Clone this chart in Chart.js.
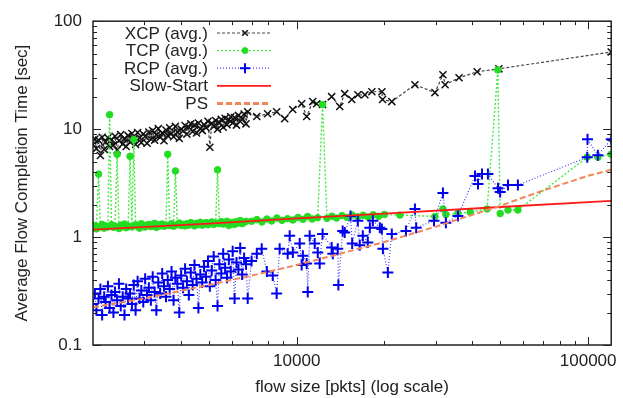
<!DOCTYPE html>
<html>
<head>
<meta charset="utf-8">
<script src="https://cdn.jsdelivr.net/npm/chart.js"></script>
<style>
  body { margin: 0; background: #fff; }
</style>
</head>
<body>
<canvas id="fct" width="623" height="398"></canvas>
<script>
"use strict";

// flow sizes shared by the three protocols in the dense part of the run
const denseSizes = [
  2000, 2030, 2055, 2090, 2120, 2150, 2185, 2210, 2250, 2280,
  2315, 2350, 2380, 2420, 2455, 2490, 2530, 2565, 2600, 2640,
  2680, 2720, 2760, 2800, 2845, 2890, 2930, 2975, 3020, 3065,
  3110, 3160, 3205, 3255, 3300, 3350, 3400, 3455, 3505, 3560,
  3610, 3665, 3720, 3780, 3835, 3895, 3955, 4015, 4075, 4140,
  4200, 4265, 4330, 4395, 4460, 4530, 4600, 4670, 4740, 4810,
  4885, 4960, 5035, 5110, 5190, 5270, 5350, 5430, 5510, 5595,
  5680, 5765, 5850, 5940, 6030, 6120, 6215, 6310, 6400, 6500,
  6600, 6700
];

const xcpDense = [
  7.2, 8.1, 6.6, 7.9, 5.7, 8.4, 6.5, 7.6, 8.3, 6.9,
  8.0, 7.1, 8.6, 6.4, 7.8, 8.9, 7.3, 8.2, 6.9, 8.7,
  7.6, 9.1, 8.0, 7.2, 9.3, 8.3, 7.5, 9.0, 8.6, 7.4,
  9.4, 8.1, 9.7, 7.9, 8.8, 10.1, 8.4, 9.2, 7.8, 9.8,
  8.7, 10.3, 9.1, 8.5, 10.6, 9.4, 8.2, 10.0, 9.6, 10.8,
  9.0, 10.4, 11.2, 9.5, 10.9, 9.2, 11.4, 10.1, 9.7, 11.0,
  10.3, 11.8, 6.8, 11.3, 10.6, 12.0, 10.0, 11.5, 12.3, 10.4,
  12.6, 11.0, 12.2, 13.0, 11.4, 12.8, 10.9, 13.4, 11.8, 12.5,
  13.8, 11.2
];
const xcpTailSizes = [
  6790, 7295, 7945, 8535, 9095, 9690, 10400, 10820, 11350, 11710,
  12270, 13180, 14050, 14610, 15450, 16210, 17130, 18110, 19600, 19700,
  21200, 25450, 29800, 31750, 32300, 36060, 41600, 49400, 120000
];
const xcpTailTimes = [
  14.5, 13.1, 13.9, 14.5, 12.5, 15.2, 17.2, 13.1, 18.0, 17.2,
  16.9, 20.0, 16.2, 21.3, 18.8, 20.8, 20.8, 22.2, 22.2, 18.8,
  18.0, 25.8, 21.8, 31.9, 25.8, 29.9, 34.0, 36.2, 51.9
];

const tcpDense = [
  1.22, 1.28, 1.19, 3.83, 1.25, 1.31, 1.21, 1.27, 1.24, 13.6,
  1.30, 1.23, 1.26, 5.85, 1.20, 1.29, 1.25, 1.32, 1.22, 1.27,
  5.6, 1.24, 8.0, 1.30, 1.26, 1.21, 1.33, 1.27, 1.24, 1.29,
  1.31, 1.25, 1.28, 1.34, 1.23, 1.30, 1.27, 1.32, 1.26, 1.29,
  5.85, 1.28, 1.33, 1.26, 4.1, 1.30, 1.35, 1.28, 1.31, 1.27,
  1.33, 1.29, 1.36, 1.30, 1.27, 1.34, 1.31, 1.37, 1.29, 1.33,
  1.36, 1.30, 1.34, 1.38, 1.31, 1.35, 4.2, 1.33, 1.39, 1.32,
  1.36, 1.40, 1.28, 1.34, 1.37, 1.31, 1.39, 1.35, 1.42, 1.33,
  1.37, 1.40
];
const tcpTailSizes = [
  7000, 7300, 7600, 7900, 8200, 8550, 8900, 9300, 9700, 10100,
  10500, 10900, 11300, 11800, 12270, 12700, 13200, 13700, 14300, 14900,
  15500, 16200, 16900, 17600, 18300, 19100, 20000, 22600, 29800, 31750,
  32500, 35740, 39400, 45000, 49000, 49900, 53100, 57400, 99300, 108000,
  120000
];
const tcpTailTimes = [
  1.40, 1.45, 1.38, 1.47, 1.41, 1.50, 1.43, 1.48, 1.44, 1.52,
  1.46, 1.55, 1.47, 1.51, 16.9, 1.49, 1.56, 1.50, 1.58, 1.52,
  1.60, 1.54, 1.59, 1.53, 1.61, 1.56, 1.62, 1.60, 1.55, 1.82,
  1.62, 1.66, 1.70, 1.82, 35.4, 1.65, 1.78, 1.78, 5.5, 5.5,
  5.85
];

const rcpDense = [
  0.24, 0.30, 0.21, 0.27, 0.33, 0.19, 0.28, 0.25, 0.35, 0.22,
  0.29, 0.20, 0.31, 0.26, 0.37, 0.23, 0.28, 0.19, 0.33, 0.27,
  0.30, 0.24, 0.36, 0.21, 0.39, 0.27, 0.32, 0.25, 0.41, 0.29,
  0.34, 0.26, 0.43, 0.31, 0.21, 0.38, 0.30, 0.46, 0.35, 0.28,
  0.40, 0.33, 0.48, 0.26, 0.42, 0.37, 0.20, 0.44, 0.34, 0.51,
  0.39, 0.29, 0.47, 0.36, 0.55, 0.41, 0.22, 0.45, 0.38, 0.53,
  0.43, 0.60, 0.35, 0.49, 0.66, 0.40, 0.23, 0.56, 0.46, 0.70,
  0.52, 0.42, 0.62, 0.48, 0.74, 0.27, 0.58, 0.50, 0.79, 0.45,
  0.64, 0.56
];
const rcpTailSizes = [
  6790, 7000, 7295, 7585, 7900, 8275, 8535, 8740, 9310, 9460,
  9700, 10240, 10400, 10500, 10820, 10910, 11080, 11530, 11810, 11990,
  12270, 13180, 13300, 13830, 13900, 14380, 14610, 15300, 15500, 16210,
  16450, 16860, 17530, 17820, 18250, 19290, 19600, 19760, 20550, 21200,
  23700, 25450, 25700, 29580, 31750, 32500, 35740, 40900, 41880, 43240,
  45300, 49070, 49900, 53100, 57400, 99300, 99500, 108000, 120000
];
const rcpTailTimes = [
  0.27, 0.60, 0.70, 0.78, 0.48, 0.44, 0.30, 0.78, 0.70, 1.03,
  0.72, 0.87, 0.55, 0.67, 0.57, 0.31, 1.03, 0.87, 0.72, 0.57,
  1.07, 0.80, 0.70, 0.78, 0.36, 1.14, 1.10, 1.57, 0.87, 1.42,
  0.84, 1.03, 0.89, 1.22, 1.42, 1.22, 1.19, 0.78, 0.47, 1.07,
  1.14, 1.82, 1.22, 1.42, 2.56, 1.36, 1.57, 3.67, 3.10, 3.83,
  3.83, 2.84, 2.62, 3.03, 3.03, 5.50, 8.04, 5.73, 8.04
];

const slowStartSizes = [2000, 5000, 10000, 20000, 50000, 120000];
const slowStartTimes = [1.17, 1.33, 1.49, 1.65, 1.90, 2.16];

const psSizes = [2000, 3000, 5000, 7000, 10000, 20000, 30000, 50000, 70000, 100000, 120000];
const psTimes = [0.224, 0.27, 0.36, 0.44, 0.55, 0.90, 1.25, 1.95, 2.70, 3.70, 4.20];

const xTickValues = [10000, 100000];
const xTickLabels = ["10000", "100000"];
const yTickValues = [0.1, 1, 10, 100];
const yTickLabels = ["0.1", "1", "10", "100"];

const FONT = '"Liberation Sans", Arial, sans-serif';
const TEXT = "#222";

function pairs(xs, ys) {
  return xs.map((x, i) => ({ x: x, y: ys[i] }));
}

// gnuplot style box with inward ticks on all four sides
const framePlugin = {
  id: "frame",
  afterDatasetsDraw(chart) {
    const { ctx, chartArea: a } = chart;
    const xs = chart.scales.x;
    const ys = chart.scales.y;
    ctx.save();
    ctx.strokeStyle = "#222";
    ctx.lineWidth = 1.5;
    ctx.strokeRect(a.left, a.top, a.right - a.left, a.bottom - a.top);
    ctx.lineWidth = 1;
    ctx.beginPath();
    const yMinor = [];
    [0.1, 1, 10].forEach((d) => { for (let k = 2; k <= 9; k++) yMinor.push(k * d); });
    yMinor.forEach((v) => {
      const p = Math.round(ys.getPixelForValue(v)) + 0.5;
      ctx.moveTo(a.left, p); ctx.lineTo(a.left + 4, p);
      ctx.moveTo(a.right, p); ctx.lineTo(a.right - 4, p);
    });
    yTickValues.forEach((v) => {
      const p = Math.round(ys.getPixelForValue(v)) + 0.5;
      ctx.moveTo(a.left, p); ctx.lineTo(a.left + 8, p);
      ctx.moveTo(a.right, p); ctx.lineTo(a.right - 8, p);
    });
    const xMinor = [];
    [1000, 10000].forEach((d) => { for (let k = 2; k <= 9; k++) xMinor.push(k * d); });
    xMinor.forEach((v) => {
      if (v <= 2000) return;
      const p = Math.round(xs.getPixelForValue(v)) + 0.5;
      ctx.moveTo(p, a.bottom); ctx.lineTo(p, a.bottom - 4);
      ctx.moveTo(p, a.top); ctx.lineTo(p, a.top + 4);
    });
    xTickValues.forEach((v) => {
      const p = Math.round(xs.getPixelForValue(v)) + 0.5;
      ctx.moveTo(p, a.bottom); ctx.lineTo(p, a.bottom - 8);
      ctx.moveTo(p, a.top); ctx.lineTo(p, a.top + 8);
    });
    ctx.stroke();
    ctx.restore();
  }
};

// key in the top left corner: text right aligned, sample to its right
const keyPlugin = {
  id: "key",
  afterDraw(chart) {
    const ctx = chart.ctx;
    const textRight = 208, lineL = 217, lineR = 271, top = 33, step = 17.6;
    ctx.save();
    ctx.font = "17px " + FONT;
    ctx.textAlign = "right";
    ctx.textBaseline = "middle";
    chart.data.datasets.forEach((ds, i) => {
      const y = top + i * step;
      ctx.fillStyle = TEXT;
      ctx.fillText(ds.label, textRight, y + 1);
      ctx.strokeStyle = ds.borderColor;
      ctx.lineWidth = ds.keyWidth || ds.borderWidth;
      ctx.setLineDash(ds.borderDash || []);
      ctx.beginPath();
      ctx.moveTo(lineL, y);
      ctx.lineTo(lineR, y);
      ctx.stroke();
      ctx.setLineDash([]);
      if (ds.pointRadius > 0) {
        ctx.fillStyle = ds.pointBackgroundColor;
        ctx.strokeStyle = ds.pointBorderColor;
        ctx.lineWidth = ds.pointBorderWidth;
        Chart.helpers.drawPoint(ctx, {
          pointStyle: ds.pointStyle,
          radius: ds.keyRadius || ds.pointRadius,
          borderWidth: ds.pointBorderWidth,
          rotation: 0
        }, 245, y);
      }
    });
    ctx.restore();
  }
};

const data = {
  datasets: [
    {
      label: "XCP (avg.)",
      data: pairs(denseSizes, xcpDense).concat(pairs(xcpTailSizes, xcpTailTimes)),
      showLine: true,
      borderColor: "#444",
      borderWidth: 1.2,
      borderDash: [3, 2],
      pointStyle: "crossRot",
      pointRadius: 5,
      keyRadius: 4,
      pointBorderWidth: 1.5,
      pointBorderColor: "#111",
      pointBackgroundColor: "#111",
      order: 5
    },
    {
      label: "TCP (avg.)",
      data: pairs(denseSizes, tcpDense).concat(pairs(tcpTailSizes, tcpTailTimes)),
      showLine: true,
      borderColor: "#44e844",
      borderWidth: 1.4,
      borderDash: [2, 2],
      pointStyle: "circle",
      pointRadius: 3.3,
      keyRadius: 3,
      pointBorderWidth: 1,
      pointBorderColor: "#22dd22",
      pointBackgroundColor: "#22dd22",
      order: 4
    },
    {
      label: "RCP (avg.)",
      data: pairs(denseSizes, rcpDense).concat(pairs(rcpTailSizes, rcpTailTimes)),
      showLine: true,
      borderColor: "#4040ff",
      borderWidth: 1.2,
      borderDash: [1, 2],
      pointStyle: "cross",
      pointRadius: 5.5,
      keyRadius: 5,
      pointBorderWidth: 2,
      pointBorderColor: "#0000ee",
      pointBackgroundColor: "#0000ee",
      order: 3
    },
    {
      label: "Slow-Start",
      data: pairs(slowStartSizes, slowStartTimes),
      showLine: true,
      borderColor: "#ff1a1a",
      borderWidth: 1.8,
      pointRadius: 0,
      order: 2
    },
    {
      label: "PS",
      data: pairs(psSizes, psTimes),
      showLine: true,
      borderColor: "#f4865c",
      borderWidth: 2,
      keyWidth: 3,
      borderDash: [6, 3],
      pointRadius: 0,
      order: 1
    }
  ]
};

const config = {
  type: "scatter",
  data: data,
  options: {
    responsive: false,
    animation: false,
    layout: { padding: { top: 19, right: 11, bottom: 0, left: 0 } },
    plugins: {
      legend: { display: false },
      tooltip: { enabled: false }
    },
    scales: {
      x: {
        type: "logarithmic",
        min: 2000,
        max: 120000,
        afterBuildTicks: (s) => { s.ticks = xTickValues.map((v) => ({ value: v })); },
        afterFit: (s) => { s.height = 53; },
        grid: { display: false, drawTicks: false },
        border: { display: false },
        ticks: {
          padding: 6,
          color: TEXT,
          font: { family: FONT, size: 17 },
          maxRotation: 0,
          callback: (v) => xTickLabels[xTickValues.indexOf(v)]
        },
        title: {
          display: true,
          text: "flow size [pkts] (log scale)",
          color: TEXT,
          padding: { top: 0, bottom: 0 },
          font: { family: FONT, size: 17 }
        }
      },
      y: {
        type: "logarithmic",
        min: 0.1,
        max: 100,
        afterBuildTicks: (s) => { s.ticks = yTickValues.map((v) => ({ value: v })); },
        afterFit: (s) => { s.width = 93; },
        grid: { display: false, drawTicks: false },
        border: { display: false },
        ticks: {
          padding: 11,
          color: TEXT,
          font: { family: FONT, size: 17 },
          callback: (v) => yTickLabels[yTickValues.indexOf(v)]
        },
        title: {
          display: true,
          text: "Average Flow Completion Time [sec]",
          color: TEXT,
          padding: { top: 12, bottom: 0 },
          font: { family: FONT, size: 17 }
        }
      }
    }
  },
  plugins: [framePlugin, keyPlugin]
};

const fctChart = new Chart(document.getElementById("fct"), config);
</script>
</body>
</html>
